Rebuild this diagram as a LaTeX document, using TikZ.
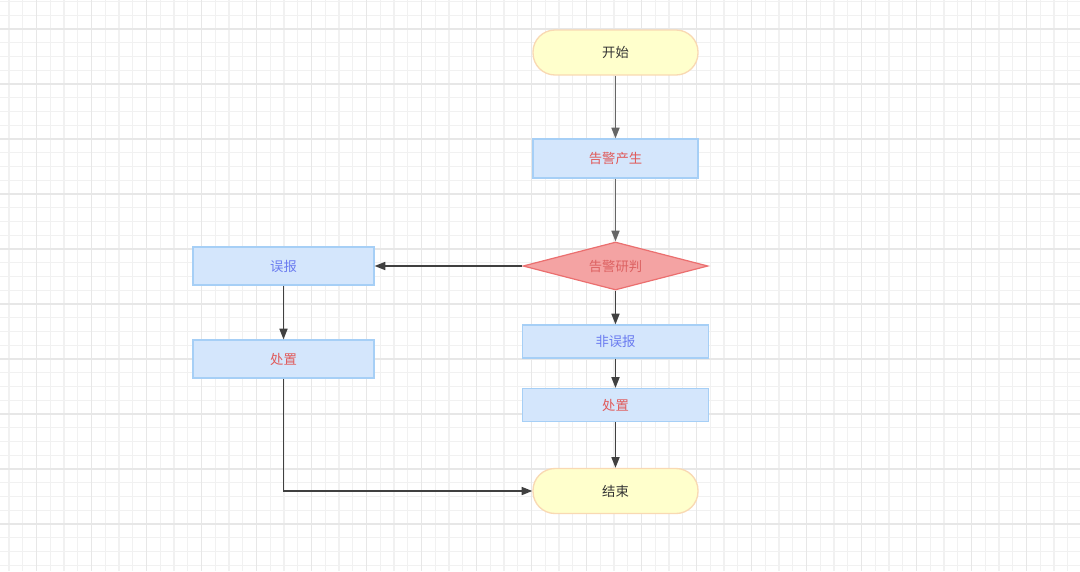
\documentclass[tikz,border=0pt]{standalone}
\usepackage{fontspec}
\setmainfont{Noto Sans CJK SC}
\usetikzlibrary{shapes.geometric}
\usetikzlibrary{arrows.meta}

\definecolor{gridminor}{HTML}{F1F1F1}
\definecolor{gridmajor}{HTML}{E7E7E7}
\definecolor{termfill}{HTML}{FFFFCC}
\definecolor{termline}{HTML}{F9D9B3}
\definecolor{boxfill}{HTML}{D4E6FC}
\definecolor{boxline}{HTML}{A6CFF6}
\definecolor{judgefill}{HTML}{F4A3A3}
\definecolor{judgeline}{HTML}{EB6F6F}
\definecolor{redtext}{HTML}{E05A5A}
\definecolor{judgetext}{HTML}{DD6262}
\definecolor{bluetext}{HTML}{6B7CF0}
\definecolor{flowline}{HTML}{404040}

\tikzset{
	label font/.style={font=\fontsize{10pt}{12pt}\selectfont},
	terminal/.style={label font, draw=termline, fill=termfill, line width=1pt, rounded corners=16.5pt, minimum width=123.75pt, minimum height=33.75pt, text=black!80},
	stepbox/.style={label font, draw=boxline, fill=boxfill, line width=0.9pt, inner sep=0pt},
	judge/.style={label font, diamond, shape aspect=3.85, draw=judgeline, fill=judgefill, line width=0.9pt, inner sep=0pt, minimum width=138.75pt, minimum height=36pt, text=judgetext},
	flow/.style={draw=flowline, line width=1.2pt, -{Triangle[length=8pt,width=6pt]}},
}

\begin{document}
\begin{tikzpicture}[x=0.75pt, y=-0.75pt]
				\useasboundingbox (0,0) rectangle (1080,571);
				\fill[white] (0,0) rectangle (1080,571);
				% background grid
				\foreach \gx in {9,22.75,...,1080} \draw[gridminor, line width=0.8pt] (\gx,0) -- (\gx,571);
				\foreach \gy in {1.5,15.25,...,571} \draw[gridminor, line width=0.8pt] (0,\gy) -- (1080,\gy);
				\foreach \gx in {36.5,91.5,...,1080} \draw[gridmajor, line width=0.8pt] (\gx,0) -- (\gx,571);
				\foreach \gy in {29,84,...,571} \draw[gridmajor, line width=0.8pt] (0,\gy) -- (1080,\gy);
				% nodes
				\node[terminal] (start) at (615.5,52.5) {开始};
				\node[stepbox, minimum width=123.75pt, minimum height=29.25pt, text=redtext] (alarm) at (615.5,158.5) {告警产生};
				\node[judge] (check) at (615.5,266) {告警研判};
				\node[stepbox, minimum width=135.75pt, minimum height=28.5pt, text=bluetext] (falseL) at (283.5,266) {误报};
				\node[stepbox, minimum width=135.75pt, minimum height=28.5pt, text=redtext] (handleL) at (283.5,359) {处置};
				\node[stepbox, minimum width=139.5pt, minimum height=24.75pt, text=bluetext] (trueR) at (615.5,341.5) {非误报};
				\node[stepbox, minimum width=139.5pt, minimum height=24.75pt, text=redtext] (handleR) at (615.5,405) {处置};
				\node[terminal] (finish) at (615.5,491) {结束};
				% connectors
				\draw[flow, draw=flowline!80] (start) -- (alarm);
				\draw[flow, draw=flowline!80] (alarm) -- (check);
				\draw[flow] (check) -- (falseL);
				\draw[flow] (check) -- (trueR);
				\draw[flow] (falseL) -- (handleL);
				\draw[flow] (trueR) -- (handleR);
				\draw[flow] (handleR) -- (finish);
				\draw[flow] (handleL.south) |- (finish.west);
\end{tikzpicture}
\end{document}
